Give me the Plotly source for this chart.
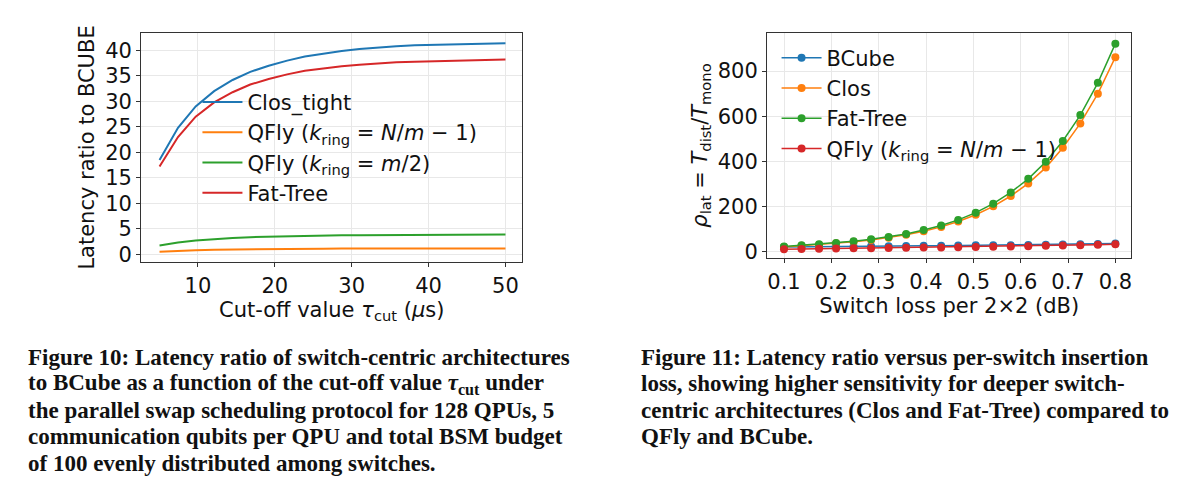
import plotly.graph_objects as go

# left panel: latency ratio vs cut-off
tau_cut = [5, 7.4, 9.7, 12.1, 14.5, 16.8, 19.2, 21.6, 23.9, 26.3, 28.7, 31, 33.4, 35.8, 38.2, 40.5, 42.9, 45.3, 47.6, 50]
clos_tight = [18.5, 24.8, 29, 32, 34.2, 35.8, 37, 38, 38.8, 39.4, 39.9, 40.3, 40.6, 40.8, 41, 41.1, 41.2, 41.3, 41.35, 41.4]
qfly_nm = [0.5, 0.7, 0.8, 0.9, 0.95, 1.0, 1.02, 1.05, 1.07, 1.08, 1.1, 1.1, 1.1, 1.12, 1.12, 1.13, 1.13, 1.13, 1.14, 1.14]
qfly_m2 = [1.7, 2.3, 2.7, 3.0, 3.2, 3.35, 3.45, 3.55, 3.6, 3.65, 3.7, 3.72, 3.75, 3.78, 3.8, 3.82, 3.83, 3.84, 3.85, 3.86]
fat_tree_l = [17.2, 23, 27, 29.8, 31.8, 33.3, 34.4, 35.3, 36, 36.5, 36.9, 37.2, 37.5, 37.7, 37.8, 37.9, 38, 38.1, 38.15, 38.2]

# right panel: latency ratio vs switch loss
loss = [0.1, 0.137, 0.174, 0.21, 0.247, 0.284, 0.321, 0.358, 0.395, 0.432,
        0.468, 0.505, 0.542, 0.579, 0.616, 0.653, 0.689, 0.726, 0.763, 0.8]
bcube = [20, 21, 21, 22, 22, 23, 23, 24, 25, 25, 26, 27, 27, 28, 29, 30, 31, 32, 33, 35]
clos = [20, 25, 30, 36, 43, 51, 61, 74, 90, 109, 133, 163, 200, 246, 302, 372, 460, 568, 700, 862]
fat_tree = [22, 27, 32, 38, 45, 54, 64, 77, 95, 115, 140, 172, 212, 262, 322, 398, 490, 605, 748, 922]
qfly = [10, 11, 12, 13, 14, 14, 15, 16, 17, 18, 19, 20, 21, 22, 23, 25, 26, 28, 30, 32]

BLUE, ORANGE, GREEN, RED = "#1f77b4", "#ff7f0e", "#2ca02c", "#d62728"
QF_NM = "QFly (<i>k</i><sub>ring</sub> = <i>N</i>/<i>m</i> − 1)"
QF_M2 = "QFly (<i>k</i><sub>ring</sub> = <i>m</i>/2)"

fig = go.Figure()
for y, name, c in [(clos_tight, "Clos_tight", BLUE), (qfly_nm, QF_NM, ORANGE),
                   (qfly_m2, QF_M2, GREEN), (fat_tree_l, "Fat-Tree", RED)]:
    fig.add_trace(go.Scatter(x=tau_cut, y=y, name=name, mode="lines",
                             line=dict(color=c, width=2), xaxis="x", yaxis="y", legend="legend"))
for y, name, c in [(bcube, "BCube", BLUE), (clos, "Clos", ORANGE),
                   (fat_tree, "Fat-Tree", GREEN), (qfly, QF_NM, RED)]:
    fig.add_trace(go.Scatter(x=loss, y=y, name=name, mode="lines+markers",
                             line=dict(color=c, width=1.5), marker=dict(size=8, color=c),
                             xaxis="x2", yaxis="y2", legend="legend2"))

ax = dict(showline=True, linecolor="#333", mirror=True, ticks="outside", ticklen=4,
          tickcolor="#333", gridcolor="#e8e8e8", zeroline=False,
          tickfont=dict(size=21, color="#111"), title_font=dict(size=21, color="#111"))

fig.update_layout(
    width=1200, height=497, margin=dict(l=0, r=0, t=0, b=0),
    plot_bgcolor="white", paper_bgcolor="white",
    font=dict(family="DejaVu Sans", color="#111"),
    xaxis=dict(ax, domain=[0.111, 0.429], range=[2.6, 52.2], tickvals=[10, 20, 30, 40, 50],
               title=dict(text="Cut-off value <i>τ</i><sub>cut</sub> (<i>μ</i>s)", standoff=2)),
    yaxis=dict(ax, domain=[0.483, 0.95], range=[-1.6, 43.5], dtick=5,
               title=dict(text="Latency ratio to BCUBE", standoff=4)),
    xaxis2=dict(ax, domain=[0.633, 0.937], range=[0.064, 0.834], dtick=0.1, anchor="y2",
                title=dict(text="Switch loss per 2×2 (dB)", standoff=2)),
    yaxis2=dict(ax, domain=[0.491, 0.95], range=[-31, 971], tickvals=[0, 200, 400, 600, 800],
                anchor="x2", title=dict(text="<i>ρ</i><sub>lat</sub> = <i>T</i><sub>dist</sub>/<i>T</i><sub>mono</sub>", standoff=4)),
    legend=dict(x=0.158, y=0.85, xanchor="left", yanchor="top", bgcolor="rgba(0,0,0,0)",
                font=dict(size=21), tracegroupgap=0, itemwidth=40),
    legend2=dict(x=0.641, y=0.94, xanchor="left", yanchor="top", bgcolor="rgba(0,0,0,0)",
                 font=dict(size=21), itemwidth=40),
)

cap_font = dict(family="Liberation Serif", size=23, color="#111")
left_cap = ["<b>Figure 10: Latency ratio of switch-centric architectures</b>",
            "<b>to BCube as a function of the cut-off value <i>τ</i><sub>cut</sub> under</b>",
            "<b>the parallel swap scheduling protocol for 128 QPUs, 5</b>",
            "<b>communication qubits per QPU and total BSM budget</b>",
            "<b>of 100 evenly distributed among switches.</b>"]
right_cap = ["<b>Figure 11: Latency ratio versus per-switch insertion</b>",
             "<b>loss, showing higher sensitivity for deeper switch-</b>",
             "<b>centric architectures (Clos and Fat-Tree) compared to</b>",
             "<b>QFly and BCube.</b>"]
for i, t in enumerate(left_cap):
    fig.add_annotation(text=t, x=18 / 1200, y=1 - (353 + 26.7 * i) / 497, xref="paper", yref="paper",
                       xanchor="left", yanchor="middle", showarrow=False, font=cap_font)
for i, t in enumerate(right_cap):
    fig.add_annotation(text=t, x=632 / 1200, y=1 - (353 + 26.7 * i) / 497, xref="paper", yref="paper",
                       xanchor="left", yanchor="middle", showarrow=False, font=cap_font)

fig.write_html("out.html")
